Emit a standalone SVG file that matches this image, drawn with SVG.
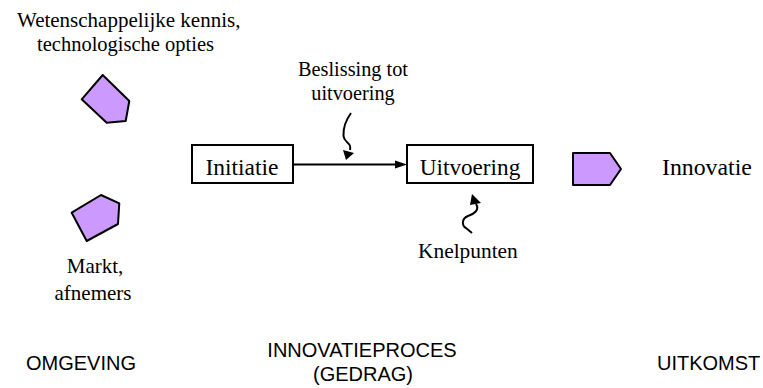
<svg xmlns="http://www.w3.org/2000/svg" width="763" height="388" viewBox="0 0 763 388">
<style>
.serif{font-family:"Liberation Serif","Times New Roman",serif;fill:#000}
.sans{font-family:"Liberation Sans",Arial,sans-serif;font-size:20px;fill:#000}
.shape{fill:#CC99FF;stroke:#000;stroke-width:2;stroke-linejoin:round}
.box{fill:#fff;stroke:#000;stroke-width:2}
.line{fill:none;stroke:#000;stroke-width:2}
.head{fill:#000;stroke:none}
</style>
<rect width="763" height="388" fill="#fff"/>
<g id="omgeving-wetenschap">
<polygon class="shape" points="102.7,75 129.3,101 125.7,121 106.7,122.7 81.7,99.3"/>
<text class="serif" font-size="21" x="17" y="27">Wetenschappelijke kennis,</text>
<text class="serif" font-size="20.5" x="37" y="51">technologische opties</text>
</g>
<g id="omgeving-markt">
<polygon class="shape" points="101,195 119.3,203.3 118,224 86.7,241 71.7,212.7"/>
<text class="serif" font-size="21" x="95" y="273" text-anchor="middle">Markt,</text>
<text class="serif" font-size="21" x="93" y="300" text-anchor="middle">afnemers</text>
</g>
<g id="initiatie">
<rect class="box" x="192" y="145" width="101" height="38"/>
<text class="serif" font-size="23.5" x="242" y="175" text-anchor="middle">Initiatie</text>
</g>
<g id="uitvoering">
<rect class="box" x="407" y="145" width="126" height="38"/>
<text class="serif" font-size="23.2" x="470" y="175" text-anchor="middle">Uitvoering</text>
</g>
<g id="beslissing">
<text class="serif" font-size="20.3" x="353" y="76" text-anchor="middle">Beslissing tot</text>
<text class="serif" font-size="20.3" x="353" y="100" text-anchor="middle">uitvoering</text>
</g>
<g id="knelpunten">
<text class="serif" font-size="21.4" x="418" y="258">Knelpunten</text>
</g>
<g id="innovatie">
<polygon class="shape" points="573,153 610,153 621,169 610,185 573,185"/>
<text class="serif" font-size="23.8" x="662" y="175">Innovatie</text>
</g>
<g id="labels">
<text class="sans" x="26" y="370">OMGEVING</text>
<text class="sans" x="362" y="357" text-anchor="middle">INNOVATIEPROCES</text>
<text class="sans" x="363" y="381" text-anchor="middle">(GEDRAG)</text>
<text class="sans" x="657" y="370" font-size="19.4">UITKOMST</text>
</g>
<g id="connectors">
<line class="line" x1="293" y1="164.5" x2="397" y2="164.5"/>
<polygon class="head" points="407,164.5 395,160.5 395,168.5"/>
<path class="line" d="M351,113 C346,120 343,128 343.5,136 C344,143 352,142 350,150"/>
<polygon class="head" points="346,160 343,150 354,153"/>
<path class="line" d="M476,204 C480,210 474,214 468,216 C461,219 462,226 466,228 L472,233"/>
<polygon class="head" points="472,194 470,205 481,203"/>
</g>
</svg>
